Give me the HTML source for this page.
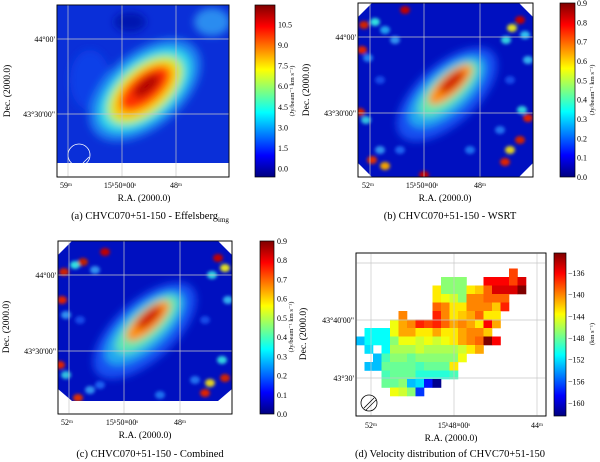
<!DOCTYPE html>
<html><head><meta charset="utf-8"><style>
body{margin:0;background:#fff;}
svg{display:block;font-family:"Liberation Serif",serif;}
text{fill:#000;}
</style></head><body>
<svg id="fig" width="600" height="462" viewBox="0 0 600 462">
<defs>
<linearGradient id="jet" x1="0" y1="1" x2="0" y2="0">
<stop offset="0" stop-color="#00007f"/><stop offset="0.125" stop-color="#0000ff"/><stop offset="0.375" stop-color="#00ffff"/><stop offset="0.625" stop-color="#ffff00"/><stop offset="0.875" stop-color="#ff0000"/><stop offset="1" stop-color="#7f0000"/>
</linearGradient>
<filter id="bl" x="-50%" y="-50%" width="200%" height="200%"><feGaussianBlur stdDeviation="4"/></filter>
<filter id="bl2" x="-50%" y="-50%" width="200%" height="200%"><feGaussianBlur stdDeviation="1.5"/></filter>
<clipPath id="ca"><rect x="57" y="5" width="172" height="158"/></clipPath>
<clipPath id="cb"><polygon points="372,3 519,3 533,17 533,163 519,177 372,177 358,163 358,17"/></clipPath>
<clipPath id="cc"><polygon points="72,241 218,241 232,255 232,389 218,401 72,401 58,389 58,255"/></clipPath>
</defs>

<!-- Panel a -->
<g>
<rect x="57" y="5" width="172" height="172" fill="#fff" stroke="#000" stroke-width="0.8"/>
<g clip-path="url(#ca)">
<rect x="57" y="5" width="172" height="158" fill="#0a2fd8"/>
<g filter="url(#bl)">
<ellipse cx="212" cy="22" rx="18" ry="14" fill="#2a8cf0"/>
<ellipse cx="130" cy="22" rx="16" ry="10" fill="#0018b0"/>
<ellipse cx="90" cy="80" rx="20" ry="30" fill="#0c40e8"/>
<g transform="rotate(-40 145 90)">
<ellipse cx="145" cy="90" rx="66" ry="38" fill="#1a80f0"/>
<ellipse cx="145" cy="90" rx="55" ry="30" fill="#30d8e8"/>
<ellipse cx="145" cy="90" rx="45" ry="24" fill="#c0f040"/>
<ellipse cx="145" cy="90" rx="38" ry="19" fill="#ffc000"/>
<ellipse cx="146" cy="89" rx="30" ry="14" fill="#ff3000"/>
<ellipse cx="149" cy="88" rx="16" ry="7" fill="#b00000"/>
</g></g>
</g>
<circle cx="79" cy="155" r="11" fill="none" stroke="#fff" stroke-width="0.8"/>
<line x1="83" y1="163" x2="89" y2="157" stroke="#fff" stroke-width="0.8"/>
<g stroke="#c8c8c8" stroke-width="0.7">
<line x1="68" y1="5" x2="68" y2="177"/><line x1="122" y1="5" x2="122" y2="177"/><line x1="176" y1="5" x2="176" y2="177"/>
<line x1="57" y1="39" x2="229" y2="39"/><line x1="57" y1="114" x2="229" y2="114"/>
</g>
<rect x="57" y="5" width="172" height="172" fill="none" stroke="#000" stroke-width="0.8"/>
<g font-size="8">
<text x="55" y="42" text-anchor="end">44°00'</text>
<text x="55" y="117" text-anchor="end">43°30'00"</text>
<text x="66" y="188" text-anchor="middle">59ᵐ</text>
<text x="120" y="188" text-anchor="middle">15ʰ50ᵐ00ˢ</text>
<text x="176" y="188" text-anchor="middle">48ᵐ</text>
</g>
<text x="144" y="201" font-size="9.5" text-anchor="middle">R.A. (2000.0)</text>
<text transform="translate(10 91) rotate(-90)" font-size="9.5" text-anchor="middle">Dec. (2000.0)</text>
<text x="150" y="219" font-size="10.5" text-anchor="middle">(a) CHVC070+51-150 - Effelsberg<tspan font-size="7" dy="3">img</tspan></text>
<rect x="255" y="5" width="20" height="172" fill="url(#jet)" stroke="#000" stroke-width="0.7"/>
<g font-size="8" id="cbta"></g>
<text transform="translate(294 91) rotate(-90)" font-size="6.5" text-anchor="middle">(Jy/beam⁻¹ km s⁻¹)</text>
</g>

<!-- Panel b -->
<g>
<rect x="358" y="3" width="175" height="174" fill="#fff" stroke="#000" stroke-width="0.8"/>
<g clip-path="url(#cb)">
<rect x="358" y="3" width="175" height="174" fill="#0010c0"/>
<g filter="url(#bl2)" id="noiseb"></g>
<g filter="url(#bl)">
<g transform="rotate(-42 448 88)">
<ellipse cx="443" cy="92" rx="62" ry="30" fill="#1850f0"/>
<ellipse cx="445" cy="90" rx="48" ry="21" fill="#20a8f0"/>
<ellipse cx="448" cy="89" rx="38" ry="15" fill="#60e8b0"/>
<ellipse cx="452" cy="87" rx="28" ry="10" fill="#ff9000"/>
<ellipse cx="455" cy="86" rx="16" ry="6" fill="#d01000"/>
</g></g>
</g>
<g stroke="#c8c8c8" stroke-width="0.7">
<line x1="370" y1="3" x2="370" y2="177"/><line x1="424" y1="3" x2="424" y2="177"/><line x1="480" y1="3" x2="480" y2="177"/>
<line x1="358" y1="37" x2="533" y2="37"/><line x1="358" y1="113" x2="533" y2="113"/>
</g>
<rect x="358" y="3" width="175" height="174" fill="none" stroke="#000" stroke-width="0.8"/>
<g font-size="8">
<text x="356" y="40" text-anchor="end">44°00'</text>
<text x="356" y="116" text-anchor="end">43°30'00"</text>
<text x="368" y="188" text-anchor="middle">52ᵐ</text>
<text x="422" y="188" text-anchor="middle">15ʰ50ᵐ00ˢ</text>
<text x="480" y="188" text-anchor="middle">48ᵐ</text>
</g>
<text x="445" y="201" font-size="9.5" text-anchor="middle">R.A. (2000.0)</text>
<text transform="translate(309 90) rotate(-90)" font-size="9.5" text-anchor="middle">Dec. (2000.0)</text>
<text x="450" y="219" font-size="10.5" text-anchor="middle">(b) CHVC070+51-150 - WSRT</text>
<rect x="560" y="3" width="15" height="174" fill="url(#jet)" stroke="#000" stroke-width="0.7"/>
<g font-size="8" id="cbtb"></g>
<text transform="translate(594 90) rotate(-90)" font-size="6.5" text-anchor="middle">(Jy/beam⁻¹ km s⁻¹)</text>
</g>

<!-- Panel c -->
<g>
<rect x="58" y="241" width="174" height="173" fill="#fff" stroke="#000" stroke-width="0.8"/>
<g clip-path="url(#cc)">
<rect x="58" y="241" width="174" height="173" fill="#0010c0"/>
<g filter="url(#bl2)" id="noisec"></g>
<g filter="url(#bl)">
<g transform="rotate(-42 145 325)">
<ellipse cx="141" cy="329" rx="64" ry="30" fill="#1850f0"/>
<ellipse cx="143" cy="327" rx="50" ry="21" fill="#20a8f0"/>
<ellipse cx="147" cy="326" rx="40" ry="15" fill="#60e8b0"/>
<ellipse cx="150" cy="324" rx="28" ry="10" fill="#ff9000"/>
<ellipse cx="153" cy="322" rx="16" ry="6" fill="#d01000"/>
</g></g>
</g>
<g stroke="#c8c8c8" stroke-width="0.7">
<line x1="69" y1="241" x2="69" y2="414"/><line x1="124" y1="241" x2="124" y2="414"/><line x1="180" y1="241" x2="180" y2="414"/>
<line x1="58" y1="275" x2="232" y2="275"/><line x1="58" y1="351" x2="232" y2="351"/>
</g>
<rect x="58" y="241" width="174" height="173" fill="none" stroke="#000" stroke-width="0.8"/>
<g font-size="8">
<text x="56" y="278" text-anchor="end">44°00'</text>
<text x="56" y="354" text-anchor="end">43°30'00"</text>
<text x="67" y="425" text-anchor="middle">52ᵐ</text>
<text x="122" y="425" text-anchor="middle">15ʰ50ᵐ00ˢ</text>
<text x="180" y="425" text-anchor="middle">48ᵐ</text>
</g>
<text x="145" y="438" font-size="9.5" text-anchor="middle">R.A. (2000.0)</text>
<text transform="translate(9 327) rotate(-90)" font-size="9.5" text-anchor="middle">Dec. (2000.0)</text>
<text x="150" y="457" font-size="10.5" text-anchor="middle">(c) CHVC070+51-150 - Combined</text>
<rect x="260" y="241" width="14" height="173" fill="url(#jet)" stroke="#000" stroke-width="0.7"/>
<g font-size="8" id="cbtc"></g>
<text transform="translate(293 327) rotate(-90)" font-size="6.5" text-anchor="middle">(Jy/beam⁻¹ km s⁻¹)</text>
</g>

<!-- Panel d -->
<g>
<rect x="356" y="253" width="190" height="163" fill="#fff" stroke="#000" stroke-width="0.8"/>
<g id="cellsd"></g>
<g stroke="#c8c8c8" stroke-width="0.7">
<line x1="371" y1="253" x2="371" y2="416"/><line x1="454" y1="253" x2="454" y2="416"/><line x1="537" y1="253" x2="537" y2="416"/>
<line x1="356" y1="263" x2="546" y2="263"/><line x1="356" y1="320" x2="546" y2="320"/><line x1="356" y1="378" x2="546" y2="378"/>
</g>
<circle cx="369" cy="403" r="8" fill="none" stroke="#000" stroke-width="0.8"/>
<line x1="364" y1="408" x2="374" y2="398" stroke="#000" stroke-width="0.8"/>
<line x1="366" y1="410" x2="376" y2="400" stroke="#000" stroke-width="0.6"/>
<rect x="356" y="253" width="190" height="163" fill="none" stroke="#000" stroke-width="0.8"/>
<g font-size="8">
<text x="354" y="323" text-anchor="end">43°40'00"</text>
<text x="354" y="381" text-anchor="end">43°30'</text>
<text x="371" y="428" text-anchor="middle">52ᵐ</text>
<text x="454" y="428" text-anchor="middle">15ʰ48ᵐ00ˢ</text>
<text x="537" y="428" text-anchor="middle">44ᵐ</text>
</g>
<text x="451" y="441" font-size="9.5" text-anchor="middle">R.A. (2000.0)</text>
<text transform="translate(306 334) rotate(-90)" font-size="9.5" text-anchor="middle">Dec. (2000.0)</text>
<text x="450" y="457" font-size="10.5" text-anchor="middle">(d) Velocity distribution of CHVC70+51-150</text>
<rect x="554" y="253" width="12" height="163" fill="url(#jet)" stroke="#000" stroke-width="0.7"/>
<g font-size="8" id="cbtd"></g>
<text transform="translate(594 334) rotate(-90)" font-size="6.5" text-anchor="middle">(km s⁻¹)</text>
</g>
</svg>
<script>
// Velocity map (panel d), rows top->bottom, columns left->right, null = blank
const velRows = [
[null,null,null,null,null,null,null,null,null,null,null,null,null,null,null,null,null,null,-138,null],
[null,null,null,null,null,null,null,null,null,null,-147,-147,-147,null,null,-136,-136,-136,-138,-135],
[null,null,null,null,null,null,null,null,null,-143,-147,-147,-147,-143,-142,-139,-135,-135,-135,-132],
[null,null,null,null,null,null,null,null,null,-143,-144,-145,-147,-140,-140,-139,-139,-139,null,null],
[null,null,null,null,null,null,null,null,null,-139,-140,-143,-143,-140,-140,-140,-142,-137,null,null],
[null,null,null,null,null,-140,null,null,null,-137,-140,-143,-142,-141,-139,-143,-143,null,null,null],
[null,null,null,null,-144,-141,-140,-137,-138,-137,-139,-141,-140,-141,-143,-136,-141,null,null,null],
[null,-151,-151,-151,-144,-141,-141,-143,-143,-141,-143,-143,-141,-140,-140,-142,null,null,null,null],
[-153,-151,-151,-151,-147,-144,-144,-145,-144,-145,-144,-143,-141,-140,-139,-132,-136,null,null,null],
[null,-152,null,-151,-146,-146,-146,-145,-146,-146,-146,-146,-145,-143,-141,null,null,null,null,null],
[null,null,-153,-149,-147,-147,-148,-147,-147,-147,-147,-147,-144,null,null,null,null,null,null,null],
[null,-153,-153,-148,-148,-148,-148,-149,-148,-148,-148,-143,null,null,null,null,null,null,null,null],
[null,null,null,-149,-148,-148,-148,-150,-150,-150,-150,-149,null,null,null,null,null,null,null,null],
[null,null,null,-148,-148,-147,-153,-152,-158,-162,null,null,null,null,null,null,null,null,null,null],
[null,null,null,null,-144,-145,-147,-157,null,null,null,null,null,null,null,null,null,null,null,null]
];
const velMin = -162.4, velMax = -132.3;
const ticksA = ["0.0","1.5","3.0","4.5","6.0","7.5","9.0","10.5"];
const ticksAVal = [0,1.5,3,4.5,6,7.5,9,10.5];
const ticksBC = ["0.0","0.1","0.2","0.3","0.4","0.5","0.6","0.7","0.8","0.9"];
const ticksBCVal = [0,0.1,0.2,0.3,0.4,0.5,0.6,0.7,0.8,0.9];
const ticksD = ["−160","−156","−152","−148","−144","−140","−136"];
const ticksDVal = [-160,-156,-152,-148,-144,-140,-136];

const NS="http://www.w3.org/2000/svg";
function jet(t){t=Math.max(0,Math.min(1,t));
 const r=Math.max(0,Math.min(1,1.5-Math.abs(4*t-3))),g=Math.max(0,Math.min(1,1.5-Math.abs(4*t-2))),b=Math.max(0,Math.min(1,1.5-Math.abs(4*t-1)));
 return `rgb(${Math.round(r*255)},${Math.round(g*255)},${Math.round(b*255)})`;}
const cellW=8.5, cellH=8.5, x0=356, y0=268.5;
const colX=c=>x0+c*cellW, rowY=r=>y0+r*cellH;
const gd=document.getElementById('cellsd');
velRows.forEach((row,r)=>row.forEach((v,c)=>{ if(v===null) return;
 const el=document.createElementNS(NS,'rect');
 el.setAttribute('x',colX(c));el.setAttribute('y',rowY(r));
 el.setAttribute('width',cellW+0.3);el.setAttribute('height',cellH+0.3);
 el.setAttribute('fill',jet((v-velMin)/(velMax-velMin)));
 
 
 gd.appendChild(el);}));
function cbTicks(id,labels,vals,vmin,vmax,top,bot,x){
 const g=document.getElementById(id);
 labels.forEach((lab,i)=>{const y=bot-(vals[i]-vmin)/(vmax-vmin)*(bot-top);
  const t=document.createElementNS(NS,'text');
  t.setAttribute('x',x);t.setAttribute('y',y+3);t.textContent=lab;
  
  
  g.appendChild(t);});}
cbTicks('cbta',ticksA,ticksAVal,-0.6,11.9,5,177,278);
cbTicks('cbtb',ticksBC,ticksBCVal,0,0.9,3,177,577);
cbTicks('cbtc',ticksBCVal.map(v=>v.toFixed(1)),ticksBCVal,0,0.9,241,414,277);
cbTicks('cbtd',ticksD,ticksDVal,velMin,velMax,253,416,568);
// edge noise decoration for b and c: [x, y, colour]
const edgeB=[[364,25,'#d02000'],[375,22,'#30e0e0'],[385,30,'#20a0f0'],[405,10,'#c00000'],[395,40,'#3090f0'],[520,20,'#c00000'],[512,28,'#e0e020'],[506,40,'#30d0e0'],[525,35,'#30c0f0'],[362,50,'#e02000'],[368,58,'#2080f0'],[360,112,'#d02000'],[366,120,'#30c0e0'],[372,160,'#e03000'],[380,150,'#3090f0'],[385,166,'#f0a000'],[424,175,'#c00000'],[505,162,'#e02000'],[510,150,'#e0d020'],[520,140,'#d02000'],[528,118,'#e02000'],[522,110,'#30d0e0'],[528,60,'#30b0f0'],[500,130,'#2070f0'],[400,150,'#1f60f0'],[470,150,'#1f70f0'],[380,80,'#1848e8'],[510,80,'#1848e8']];
const edgeC=[[64,272,'#d02000'],[75,265,'#30e0e0'],[83,262,'#c02000'],[105,252,'#c00000'],[95,270,'#3090f0'],[218,258,'#c00000'],[225,268,'#e0e020'],[212,275,'#30d0e0'],[62,300,'#e02000'],[66,315,'#3090f0'],[60,365,'#e02000'],[66,375,'#30c0e0'],[78,398,'#e03000'],[90,390,'#3090f0'],[205,393,'#e02000'],[210,383,'#e0d020'],[225,378,'#d02000'],[222,360,'#30d0e0'],[228,300,'#30b0f0'],[195,380,'#2070f0'],[100,385,'#1f60f0'],[160,395,'#1f70f0'],[80,320,'#1848e8'],[205,320,'#1848e8']];
function noise(id,pts){const g=document.getElementById(id);
 pts.forEach(p=>{const e=document.createElementNS(NS,'ellipse');
  e.setAttribute('cx',p[0]);e.setAttribute('cy',p[1]);e.setAttribute('rx',5);e.setAttribute('ry',4);
  e.setAttribute('fill',p[2]);
  
  
  g.appendChild(e);});}
noise('noiseb',edgeB);noise('noisec',edgeC);
</script>
</body></html>
